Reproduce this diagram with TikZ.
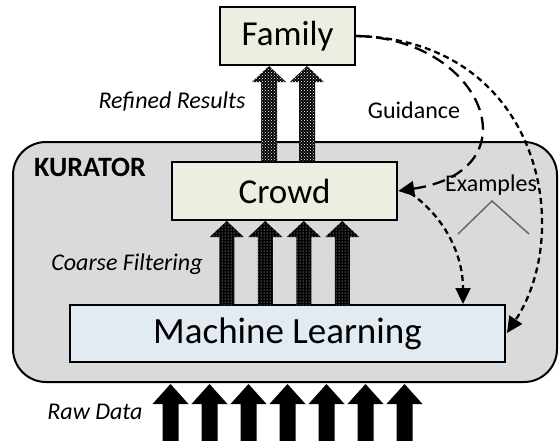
\documentclass[tikz,border=0pt]{standalone}
\usepackage{fontspec}
\setmainfont{Carlito}
\usetikzlibrary{arrows.meta,patterns,calc}

\definecolor{boxgreen}{RGB}{235,238,224}
\definecolor{boxblue}{RGB}{226,234,242}
\definecolor{panelgray}{RGB}{218,218,218}
\definecolor{caretgray}{RGB}{105,105,105}

% block arrow pointing up: style, centre x, bottom y, tip y, shaft half width, head half width, head length
\newcommand\blockarrow[7]{%
  \fill[#1] (#2-#5,#3) -- (#2-#5,#4+#7) -- (#2-#6,#4+#7) -- (#2,#4)
    -- (#2+#6,#4+#7) -- (#2+#5,#4+#7) -- (#2+#5,#3) -- cycle;}

\tikzset{
  stagebox/.style={draw=black, line width=2.4pt, inner sep=0pt,
    font=\fontsize{35}{40}\selectfont},
  panel/.style={draw=black, line width=2pt, fill=panelgray, rounded corners=33pt},
  lbl/.style={font=\fontsize{24}{28}\selectfont\itshape, inner sep=0pt},
  plainlbl/.style={font=\fontsize{24}{28}\selectfont, inner sep=0pt},
  rawarrow/.style={fill=black},
  crowdarrow/.style={preaction={fill=black}, pattern=dots, pattern color=white},
  famarrow/.style={preaction={fill=black}, pattern=crosshatch dots, pattern color=white},
  tip/.style={-{Triangle[length=16pt,width=15pt]}},
  longdash/.style={line width=2.3pt, dash pattern=on 13pt off 7pt, tip},
  shortdash/.style={line width=2.3pt, dash pattern=on 6pt off 4pt, tip},
}

\begin{document}
\begin{tikzpicture}[x=1pt, y=-1pt]
\useasboundingbox (0,0) rectangle (559,440);

% KURATOR system panel
\draw[panel] (13,142) rectangle (557,382);
\node[font=\fontsize{28}{32}\selectfont\bfseries, inner sep=0pt] (kurator) at (90,167) {KURATOR};

% stages
\node[stagebox, fill=boxgreen, minimum width=135pt, minimum height=58pt] (fam) at (287.5,36) {Family};
\node[stagebox, fill=boxgreen, minimum width=225pt, minimum height=58pt] (crowd) at (284.5,191) {Crowd};
\node[stagebox, fill=boxblue, minimum width=435pt, minimum height=57pt,
      font=\fontsize{37}{42}\selectfont] (ml) at (287.5,333.5) {Machine Learning};

% raw data entering the system
\foreach \k in {-3,...,3}{
  \blockarrow{rawarrow}{287.5+39*\k}{441}{384}{8}{18}{20}
}
% coarse filtering: machine learning to crowd
\foreach \k in {-1.5,-0.5,0.5,1.5}{
  \blockarrow{crowdarrow}{284.5+38.5*\k}{305}{221}{7.5}{17}{16}
}
% refined results: crowd to family
\foreach \k in {-1,1}{
  \blockarrow{famarrow}{288+19*\k}{161}{66}{8}{17}{16}
}

% flow labels
\node[lbl] (refined) at (172,102) {Refined Results};
\node[lbl] (coarse) at (127,264) {Coarse Filtering};
\node[lbl] (raw) at (95,412) {Raw Data};

% feedback from the family
\coordinate (exstart) at (410,193);
\coordinate (exend) at (463,304);
\coordinate (mlright) at (507,333);
\draw[longdash] (fam.east) .. controls (482,38) and (537,170) .. (crowd.east);
\draw[shortdash] (fam.east) .. controls (540,40) and (575,230) .. (mlright);
\draw[shortdash] (exstart) .. controls (440,213) and (463,250) .. (exend);

\node[plainlbl] (guidance) at (414,110) {Guidance};
\node[plainlbl] (examples) at (491,185) {Examples};
\draw[caretgray, line width=1.5pt] (458,234) -- (492,201) -- (529,234);
\end{tikzpicture}
\end{document}
